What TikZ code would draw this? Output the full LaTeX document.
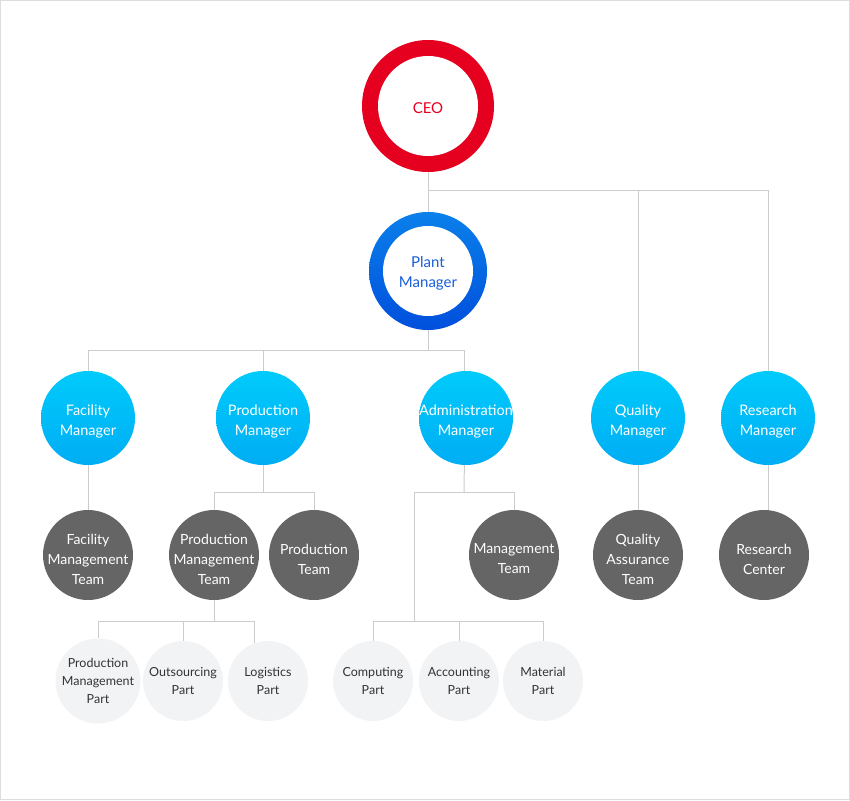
\documentclass[tikz,border=0pt]{standalone}
\usepackage{fontspec}
\setmainfont{Lato}
\usepackage{tikz}
\usetikzlibrary{positioning,calc}
\definecolor{ceored}{HTML}{E60020}
\definecolor{planttop}{HTML}{0A80EA}
\definecolor{plantbot}{HTML}{004FDC}
\definecolor{planttext}{HTML}{1A5FDA}
\definecolor{cyantop}{HTML}{00CBFB}
\definecolor{cyanbot}{HTML}{00ADF4}
\definecolor{teamgray}{HTML}{656565}
\definecolor{partgray}{HTML}{F2F3F5}
\definecolor{parttext}{HTML}{333333}
\definecolor{linkgray}{HTML}{CCCCCC}
\definecolor{framegray}{HTML}{DDDDDD}

\begin{document}
\begin{tikzpicture}[
    x=1pt, y=-1pt,
    ring/.style={circle, inner sep=0pt, minimum size=#1},
    inner/.style={circle, fill=white, inner sep=0pt, minimum size=#1},
    ringtext/.style={align=center, inner sep=0pt, yshift=-2pt, font=\fontsize{15}{20}\selectfont},
    manager/.style={circle, inner sep=0pt, minimum size=94pt, top color=cyantop, bottom color=cyanbot,
        label={[mgrtext]center:{#1}}},
    mgrtext/.style={text=white, align=center, inner sep=0pt, yshift=-3pt, font=\fontsize{14.5}{20}\selectfont},
    team/.style={circle, inner sep=0pt, minimum size=90pt, fill=teamgray,
        label={[teamtext]center:{#1}}},
    teamtext/.style={text=white, align=center, inner sep=0pt, yshift=-4pt, font=\fontsize{14}{20}\selectfont},
    part/.style={circle, inner sep=0pt, minimum size=80pt, fill=partgray,
        text=parttext, align=center, font=\fontsize{12.5}{18}\selectfont},
    link/.style={draw=linkgray, line width=1pt}
]
\useasboundingbox (0,0) rectangle (850,800);
\draw[draw=framegray, line width=1pt] (0.5,0.5) rectangle (849.5,799.5);

% top of the chart
\node[ring=132pt, fill=ceored] (ceo) at (428,106) {};
\node[inner=100pt] (ceoin) at (ceo) {};
\node[ringtext, text=ceored] (ceotext) at (ceo) {CEO};
\node[ring=118pt, top color=planttop, bottom color=plantbot] (pm) at (428,271) {};
\node[inner=90pt] (pmin) at (pm) {};
\node[ringtext, text=planttext] (pmtext) at (pm) {Plant\\Manager};

% managers
\node[manager={Facility\\Manager}] (fm) at (88,418) {};
\node[manager={Production\\Manager}] (prm) at (263,418) {};
\node[manager={Administration\\Manager}] (am) at (466,418) {};
\node[manager={Quality\\Manager}] (qm) at (638,418) {};
\node[manager={Research\\Manager}] (rm) at (768,418) {};

% teams
\node[team={Facility\\Management\\Team}] (fmt) at (88,555) {};
\node[team={Production\\Management\\Team}] (pmt) at (214,555) {};
\node[team={Production\\Team}] (pt) at (314,555) {};
\node[team={Management\\Team}] (mt) at (514,555) {};
\node[team={Quality\\Assurance\\Team}] (qat) at (638,555) {};
\node[team={Research\\Center}] (rc) at (764,555) {};

% parts
\node[part] (pmp) at (98,681) {Production\\Management\\Part};
\node[part] (op) at (183,681) {Outsourcing\\Part};
\node[part] (lp) at (268,681) {Logistics\\Part};
\node[part] (cp) at (373,681) {Computing\\Part};
\node[part] (acp) at (459,681) {Accounting\\Part};
\node[part] (map) at (543,681) {Material\\Part};

% junctions
\coordinate (ceobus) at (428,190);
\coordinate (pmbus) at (428,350);
\coordinate (prodbus) at (263,492);
\coordinate (admbus) at (464,492);
\coordinate (admdrop) at (414,621);
\coordinate (partbus) at (214,621);

% connectors
\draw[link] (ceo.south) -- (pm.north);
\draw[link] (ceobus) -| (qm.north);
\draw[link] (ceobus) -| (rm.north);
\draw[link] (pm.south) -- (pmbus);
\foreach \m in {fm,prm}
    \draw[link] (pmbus) -| (\m.north);
\draw[link] (pmbus) -| (am.92);
\draw[link] (fm.south) -- (fmt.north);
\draw[link] (qm.south) -- (qat.north);
\draw[link] (rm.south) -- (rm.south |- rc.north);
\draw[link] (prm.south) -- (prodbus);
\draw[link] (prodbus) -| (pmt.north);
\draw[link] (prodbus) -| (pt.north);
\draw[link] (am.268) -- (admbus);
\draw[link] (admbus) -| (mt.north);
\draw[link] (admbus) -| (admdrop);
\draw[link] (pmt.south) -- (partbus);
\draw[link] (partbus) -| (pmp.north);
\draw[link] (partbus) -| (op.north);
\draw[link] (partbus) -| (lp.110);
\draw[link] (admdrop) -| (cp.north);
\draw[link] (admdrop) -| (acp.north);
\draw[link] (admdrop) -| (map.north);
\end{tikzpicture}
\end{document}
